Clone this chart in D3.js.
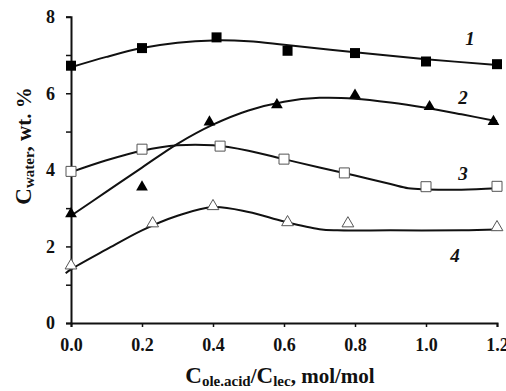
<!DOCTYPE html>
<html>
<head>
<meta charset="utf-8">
<script src="https://cdn.jsdelivr.net/npm/d3@7"></script>
<style>
  body { margin: 0; background: #fff; }
  text { font-family: "Liberation Serif", "Times New Roman", serif; font-weight: bold; fill: #111; }
</style>
</head>
<body>
<script>
// valeurs mesurées (points)
const xPts1 = [0, 0.2, 0.41, 0.61, 0.8, 1.0, 1.2];
const yPts1 = [6.72, 7.18, 7.46, 7.11, 7.05, 6.83, 6.76];
const xPts2 = [0, 0.2, 0.39, 0.58, 0.8, 1.01, 1.19];
const yPts2 = [2.85, 3.55, 5.25, 5.7, 5.95, 5.65, 5.26];
const xPts3 = [0, 0.2, 0.42, 0.6, 0.77, 1.0, 1.2];
const yPts3 = [3.96, 4.54, 4.62, 4.28, 3.92, 3.56, 3.57];
const xPts4 = [0, 0.23, 0.4, 0.61, 0.78, 1.2];
const yPts4 = [1.5, 2.6, 3.05, 2.63, 2.6, 2.5];

// courbes de tendance
const xFit1 = [0, 0.1, 0.2, 0.3, 0.4, 0.5, 0.6, 0.8, 1.0, 1.2];
const yFit1 = [6.68, 6.95, 7.18, 7.32, 7.38, 7.36, 7.27, 7.07, 6.89, 6.74];
const xFit2 = [0, 0.1, 0.2, 0.3, 0.4, 0.5, 0.6, 0.7, 0.8, 0.9, 1.0, 1.1, 1.2];
const yFit2 = [2.8, 3.43, 4.06, 4.68, 5.18, 5.55, 5.78, 5.88, 5.86, 5.76, 5.62, 5.45, 5.27];
const xFit3 = [0, 0.1, 0.2, 0.3, 0.4, 0.5, 0.6, 0.7, 0.8, 0.9, 0.95, 1.0, 1.1, 1.2];
const yFit3 = [3.94, 4.25, 4.5, 4.64, 4.64, 4.5, 4.28, 4.06, 3.85, 3.63, 3.52, 3.49, 3.48, 3.52];
const xFit4 = [-0.015, 0, 0.1, 0.2, 0.3, 0.4, 0.5, 0.6, 0.7, 0.75, 0.9, 1.1, 1.2];
const yFit4 = [1.3, 1.4, 1.92, 2.42, 2.8, 3.03, 2.9, 2.65, 2.45, 2.42, 2.42, 2.42, 2.44];

const etiquettes = ["1", "2", "3", "4"];
const posEtiquettes = [[1.124, 7.26], [1.104, 5.72], [1.104, 3.73], [1.082, 1.59]];
const xTicks = [0, 0.2, 0.4, 0.6, 0.8, 1.0, 1.2];
const yTicks = [0, 2, 4, 6, 8];
const yMinor = [1, 3, 5, 7];

const W = 506, H = 391;
const marge = {gauche: 71, droite: 9, haut: 16.7, bas: 68};

const svg = d3.select('body').append('svg')
  .attr('width', W).attr('height', H);

const x = d3.scaleLinear().domain([0, 1.2]).range([marge.gauche, W - marge.droite]);
const y = d3.scaleLinear().domain([0, 8]).range([H - marge.bas, marge.haut]);

// axes
const axeX = svg.append('g')
  .attr('transform', `translate(0,${y(0)})`)
  .call(d3.axisBottom(x).tickValues(xTicks).tickSize(4).tickFormat(d3.format('.1f')));
const axeY = svg.append('g')
  .attr('transform', `translate(${x(0)},0)`)
  .call(d3.axisLeft(y).tickValues(yTicks.concat(yMinor)).tickSize(5)
    .tickFormat(d => yTicks.includes(d) ? d : ''));
[axeX, axeY].forEach(a => {
  a.select('.domain').attr('stroke', '#111').attr('stroke-width', 2);
  a.selectAll('.tick line').attr('stroke', '#111').attr('stroke-width', 1.5);
  a.selectAll('.tick text').style('font-size', '18px')
    .style('font-family', '"Liberation Serif", serif').style('font-weight', 'bold').attr('fill', '#111');
});
axeX.selectAll('.tick text').attr('dy', '1.15em');
axeY.selectAll('.tick text').attr('x', -16);

// titres
const tx = svg.append('text').attr('x', 280).attr('y', 383)
  .attr('text-anchor', 'middle').style('font-size', '21px');
tx.append('tspan').text('C').style('font-size', '23px');
tx.append('tspan').text('ole.acid').style('font-size', '15px').attr('dy', 3);
tx.append('tspan').text('/').attr('dy', -3);
tx.append('tspan').text('C').style('font-size', '23px');
tx.append('tspan').text('lec').style('font-size', '15px').attr('dy', 3);
tx.append('tspan').text(', mol/mol').attr('dy', -3);

const ty = svg.append('text').attr('transform', 'translate(31,146) rotate(-90)')
  .attr('text-anchor', 'middle').style('font-size', '21px');
ty.append('tspan').text('C').style('font-size', '23px');
ty.append('tspan').text('water').style('font-size', '15px').attr('dy', 3);
ty.append('tspan').text(', wt. %').attr('dy', -3);

// courbes
const ligne = d3.line().x(d => x(d[0])).y(d => y(d[1])).curve(d3.curveCatmullRom.alpha(0.5));
const fits = [[xFit1, yFit1], [xFit2, yFit2], [xFit3, yFit3], [xFit4, yFit4]];
fits.forEach(([xs, ys]) => {
  svg.append('path')
    .attr('d', ligne(xs.map((v, i) => [v, ys[i]])))
    .attr('fill', 'none').attr('stroke', '#111').attr('stroke-width', 2);
});

// marqueurs
const carre = d3.symbol().type(d3.symbolSquare).size(100);
const tri = d3.symbol().type(d3.symbolTriangle).size(60);
const series = [
  {xs: xPts1, ys: yPts1, sym: carre, plein: true},
  {xs: xPts2, ys: yPts2, sym: tri, plein: true},
  {xs: xPts3, ys: yPts3, sym: carre, plein: false},
  {xs: xPts4, ys: yPts4, sym: tri, plein: false}
];
series.forEach(s => {
  svg.append('g').selectAll('path')
    .data(s.xs.map((v, i) => [v, s.ys[i]]))
    .enter().append('path')
    .attr('transform', d => `translate(${x(d[0])},${y(d[1])})`)
    .attr('d', s.sym)
    .attr('fill', s.plein ? '#000' : '#fff')
    .attr('stroke', s.plein ? '#000' : '#555')
    .attr('stroke-width', s.plein ? 0 : 1);
});

// numéros des courbes
svg.append('g').selectAll('text')
  .data(etiquettes)
  .enter().append('text')
  .attr('x', (d, i) => x(posEtiquettes[i][0]))
  .attr('y', (d, i) => y(posEtiquettes[i][1]))
  .attr('text-anchor', 'middle')
  .style('font-size', '19px').style('font-style', 'italic')
  .text(d => d);
</script>
</body>
</html>
